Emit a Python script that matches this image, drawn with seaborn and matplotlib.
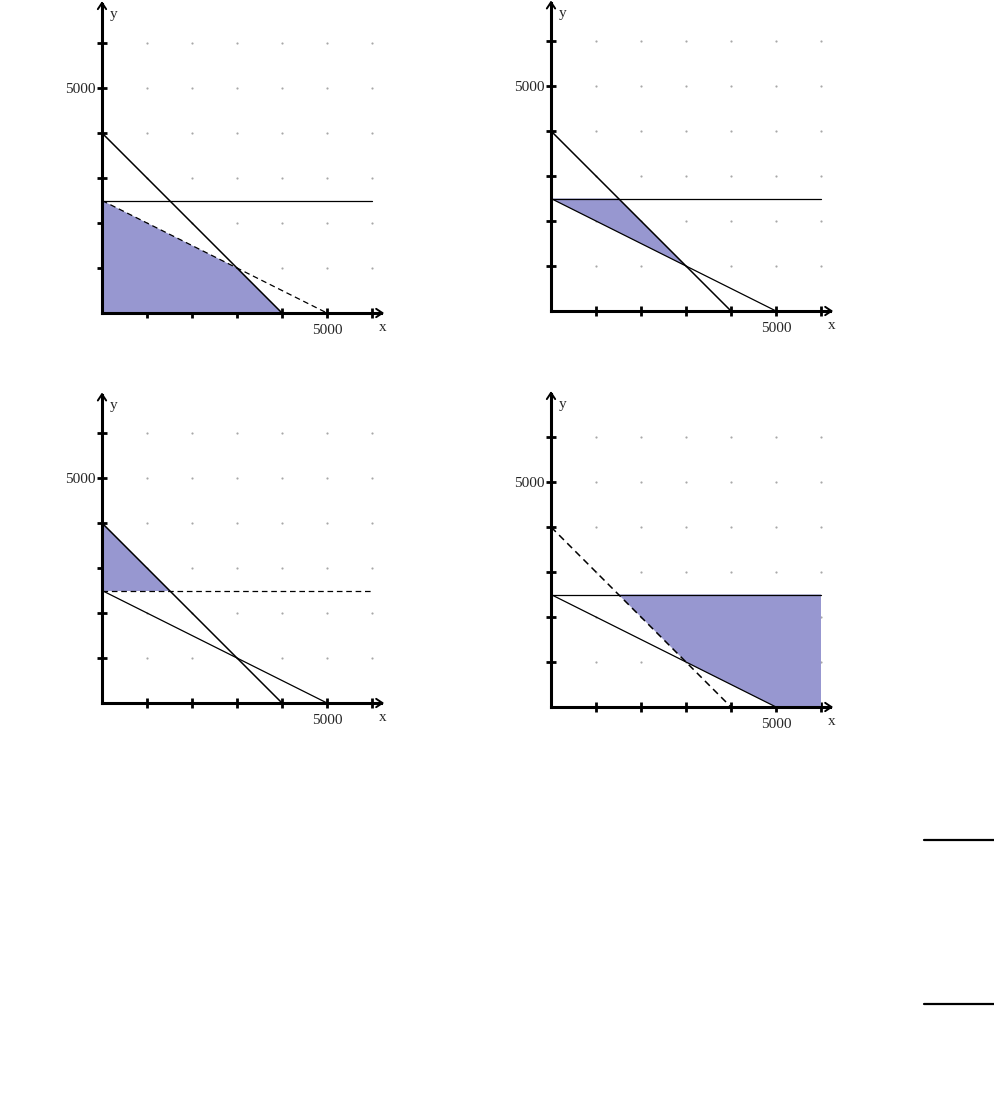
import matplotlib
matplotlib.use('Agg')

import matplotlib.pyplot as plt
import seaborn as sns
import numpy as np
import pandas as pd
from matplotlib.lines import Line2D

sns.set_style("white")
plt.rcParams['font.family'] = ['Liberation Serif', 'DejaVu Serif']

# constraint lines (same three in every panel)
line_a_x = [0, 4000]
line_a_y = [4000, 0]
line_h_x = [0, 6000]
line_h_y = [2500, 2500]
line_c_x = [0, 5000]
line_c_y = [2500, 0]

tick_values = [1000, 2000, 3000, 4000, 5000, 6000]
tick_labels = ['', '', '', '', '5000', '']

# line style per panel: (line a, line h, line c)
panel_styles = [
    ('solid', 'solid', 'dashed'),
    ('solid', 'solid', 'solid'),
    ('solid', 'dashed', 'solid'),
    ('dashed', 'solid', 'solid'),
]

# shaded feasible regions
region1_x = [0, 0, 3000, 4000]
region1_y = [0, 2500, 1000, 0]
region2_x = [0, 1500, 3000]
region2_y = [2500, 2500, 1000]
region3_x = [0, 0, 1500]
region3_y = [4000, 2500, 2500]
region4_x = [1500, 6000, 6000, 5000, 3000]
region4_y = [2500, 2500, 0, 0, 1000]
regions = [(region1_x, region1_y), (region2_x, region2_y),
           (region3_x, region3_y), (region4_x, region4_y)]

# pixel layout of each panel: origin (px from left, px from top), top of y axis
W, H = 994, 1114
origins = [(102, 313), (551, 311), (102, 703), (551, 707)]
y_tops = [6930, 6900, 6900, 7020]
x_end = 6270
PX = 0.045  # pixels per unit

DASH = (0, (4.5, 3))
SHADE = '#9797d0'


def draw_panel(fig, idx):
    ox, oy = origins[idx]
    left_px, right_px = 80, 300
    down_px, up_px = 40, 330
    ax = fig.add_axes([(ox - left_px) / W, 1 - (oy + down_px) / H,
                       (left_px + right_px) / W, (down_px + up_px) / H])
    ax.set_xlim(-left_px / PX, right_px / PX)
    ax.set_ylim(-down_px / PX, up_px / PX)
    ax.patch.set_alpha(0)

    # grid dots
    gx, gy = np.meshgrid(tick_values, tick_values)
    dots = pd.DataFrame({'x': gx.ravel(), 'y': gy.ravel()})
    sns.scatterplot(data=dots, x='x', y='y', ax=ax, s=2.5, color='#a8a8a8',
                    linewidth=0, zorder=1)

    rx, ry = regions[idx]
    ax.fill(rx, ry, color=SHADE, linewidth=0, zorder=2)

    sa, sh, sc = panel_styles[idx]
    for xs, ys, st, lw in [(line_a_x, line_a_y, sa, 1.1),
                           (line_h_x, line_h_y, sh, 0.9),
                           (line_c_x, line_c_y, sc, 0.9)]:
        ls = DASH if st == 'dashed' else '-'
        sns.lineplot(x=xs, y=ys, ax=ax, color='black', linewidth=lw,
                     linestyle=ls, estimator=None, sort=False, zorder=3)

    # axes through the origin
    for side in ['top', 'right']:
        ax.spines[side].set_visible(False)
    ax.spines['left'].set_position(('data', 0))
    ax.spines['bottom'].set_position(('data', 0))
    ax.spines['left'].set_bounds(0, y_tops[idx] - 60)
    ax.spines['bottom'].set_bounds(0, x_end - 60)
    for side in ['left', 'bottom']:
        ax.spines[side].set_linewidth(2.2)
        ax.spines[side].set_color('black')
        ax.spines[side].set_zorder(4)

    ax.set_xticks(tick_values)
    ax.set_xticklabels(tick_labels)
    ax.set_yticks(tick_values)
    ax.set_yticklabels(tick_labels)
    ax.tick_params(axis='both', which='major', bottom=True, left=True,
                   direction='inout', length=7.5, width=2,
                   color='black', labelsize=11, pad=1)
    ax.tick_params(axis='x', pad=4.5)

    arrow = dict(arrowstyle='->,head_length=0.45,head_width=0.3', lw=1.4,
                 color='black', shrinkA=0, shrinkB=0)
    ax.annotate('', xy=(0, y_tops[idx]), xytext=(0, y_tops[idx] - 400),
                arrowprops=arrow)
    ax.annotate('', xy=(x_end, 0), xytext=(x_end - 400, 0),
                arrowprops=arrow)

    ax.text(180, y_tops[idx] - 300, 'y', fontsize=11, ha='left', va='center')
    ax.text(x_end - 110, -330, 'x', fontsize=11, ha='left', va='center')
    ax.set_xlabel('')
    ax.set_ylabel('')
    return ax


fig = plt.figure(figsize=(W / 100, H / 100), dpi=100)
for i in range(4):
    draw_panel(fig, i)

# answer blanks at the right edge
for yp in [840, 1004]:
    fig.add_artist(Line2D([924 / W, 1.0], [1 - yp / H, 1 - yp / H],
                          color='black', linewidth=1.6))

fig.savefig('out.png', dpi=100)
